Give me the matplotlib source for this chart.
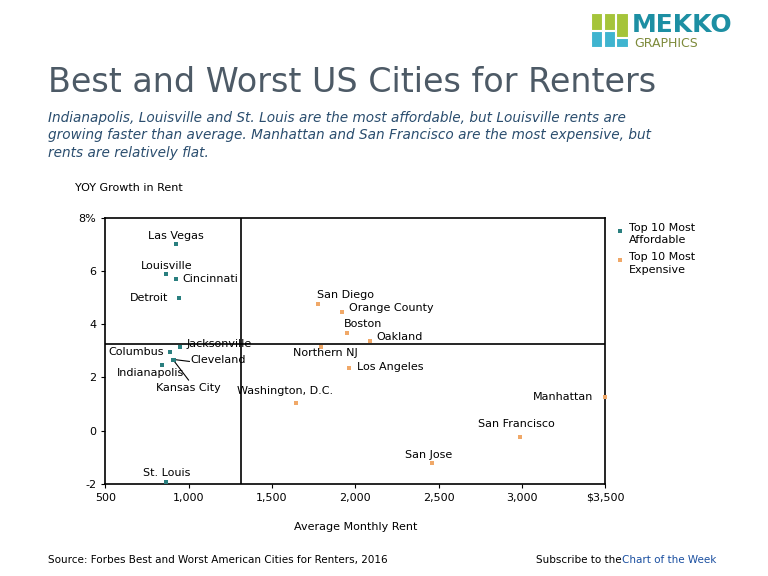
import matplotlib.pyplot as plt
import matplotlib.patches as patches

teal = '#2a7f7f'
orange = '#f0a868'

aff_names = ['Las Vegas', 'Louisville', 'Cincinnati', 'Detroit', 'Jacksonville',
             'Columbus', 'Cleveland', 'Kansas City', 'Indianapolis', 'St. Louis']
aff_rent = [926, 866, 926, 944, 950, 890, 908, 910, 842, 866]
aff_growth = [7.0, 5.9, 5.68, 5.0, 3.16, 2.97, 2.67, 2.65, 2.48, -1.92]

exp_names = ['San Diego', 'Orange County', 'Boston', 'Oakland', 'Northern NJ',
             'Los Angeles', 'Washington, D.C.', 'Manhattan', 'San Francisco', 'San Jose']
exp_rent = [1778, 1922, 1952, 2090, 1796, 1964, 1646, 3500, 2990, 2462]
exp_growth = [4.77, 4.47, 3.68, 3.38, 3.16, 2.37, 1.05, 1.28, -0.23, -1.2]

avg_rent = 1316
avg_growth = 3.27

fig = plt.figure(figsize=(7.68, 5.76), dpi=100)
ax = fig.add_axes([0.137, 0.160, 0.651, 0.462])
ax.scatter(aff_rent, aff_growth, s=5, marker='s', color=teal, zorder=3, linewidths=0)
ax.scatter(exp_rent, exp_growth, s=5, marker='s', color=orange, zorder=3, clip_on=False, linewidths=0)
ax.axvline(avg_rent, color='black', lw=1.2)
ax.axhline(avg_growth, color='black', lw=1.2)
ax.set_xlim(500, 3500)
ax.set_ylim(-2, 8)
ax.set_xticks([500, 1000, 1500, 2000, 2500, 3000, 3500])
ax.set_xticklabels(['500', '1,000', '1,500', '2,000', '2,500', '3,000', '$3,500'])
ax.set_yticks([-2, 0, 2, 4, 6, 8])
ax.set_yticklabels(['-2', '0', '2', '4', '6', '8%'])
ax.tick_params(labelsize=8, length=3)
for s in ax.spines.values():
    s.set_linewidth(1.2)
ax.set_xlabel('Average Monthly Rent', fontsize=8, labelpad=14)
ax.text(-0.06, 1.1, 'YOY Growth in Rent', transform=ax.transAxes, fontsize=8)

lab = [
    ('Las Vegas', 926, 7.3, 'center'), ('Louisville', 866, 6.2, 'center'),
    ('Cincinnati', 960, 5.68, 'left'), ('Detroit', 880, 5.0, 'right'),
    ('Jacksonville', 990, 3.25, 'left'), ('Columbus', 850, 2.97, 'right'),
    ('Cleveland', 1010, 2.67, 'left'), ('Indianapolis', 570, 2.15, 'left'),
    ('St. Louis', 866, -1.6, 'center'),
    ('San Diego', 1770, 5.1, 'left'), ('Orange County', 1965, 4.6, 'left'),
    ('Boston', 1930, 4.0, 'left'), ('Oakland', 2130, 3.5, 'left'),
    ('Northern NJ', 1820, 2.9, 'center'), ('Los Angeles', 2010, 2.4, 'left'),
    ('Washington, D.C.', 1580, 1.5, 'center'), ('Manhattan', 3430, 1.28, 'right'),
    ('San Francisco', 2970, 0.26, 'center'), ('San Jose', 2440, -0.9, 'center'),
]
for t, x, y, ha in lab:
    ax.text(x, y, t, fontsize=8, ha=ha, va='center')
ax.text(1000, 1.62, 'Kansas City', fontsize=8, ha='center', va='center')
ax.plot([915, 1005], [2.67, 2.6], color='black', lw=0.8)
ax.plot([915, 1000], [2.6, 1.9], color='black', lw=0.8)

# legend
ax.scatter([3590], [7.5], s=6, marker='s', color=teal, clip_on=False, linewidths=0, zorder=5)
ax.text(3640, 7.8, 'Top 10 Most\nAffordable', fontsize=8, va='top', ha='left', linespacing=1.3)
ax.scatter([3590], [6.4], s=6, marker='s', color=orange, clip_on=False, linewidths=0, zorder=5)
ax.text(3640, 6.7, 'Top 10 Most\nExpensive', fontsize=8, va='top', ha='left', linespacing=1.3)

fig.text(0.062, 0.84, 'Best and Worst US Cities for Renters', fontsize=24, color='#4d5a66')
fig.text(0.062, 0.728, 'Indianapolis, Louisville and St. Louis are the most affordable, but Louisville rents are\n'
         'growing faster than average. Manhattan and San Francisco are the most expensive, but\n'
         'rents are relatively flat.', fontsize=9.8, style='italic', color='#2a4d6e', linespacing=1.3)
fig.text(0.062, 0.022, 'Source: Forbes Best and Worst American Cities for Renters, 2016', fontsize=7.5)
fig.text(0.698, 0.022, 'Subscribe to the', fontsize=7.5)
fig.text(0.810, 0.022, 'Chart of the Week', fontsize=7.5, color='#1a4fa0')

# logo
blocks = [(0, 0.5, 0.3, 0.5, '#a5c43a'), (0.33, 0.5, 0.3, 0.5, '#a5c43a'), (0.66, 0.3, 0.34, 0.7, '#a5c43a'),
          (0, 0, 0.3, 0.47, '#3fb4cf'), (0.33, 0, 0.3, 0.47, '#3fb4cf'), (0.66, 0, 0.34, 0.27, '#3fb4cf')]
lax = fig.add_axes([0.770, 0.918, 0.048, 0.06])
lax.set_xlim(0, 1); lax.set_ylim(0, 1)
lax.axis('off')
for x, y, w, h, c in blocks:
    lax.add_patch(patches.Rectangle((x, y), w, h, color=c, ec='white', lw=0.8))
fig.text(0.823, 0.945, 'MEKKO', fontsize=18, weight='bold', color='#1d8fa3')
fig.text(0.826, 0.918, 'GRAPHICS', fontsize=9, color='#7d8a3a')

fig.savefig('out.png', dpi=100)
